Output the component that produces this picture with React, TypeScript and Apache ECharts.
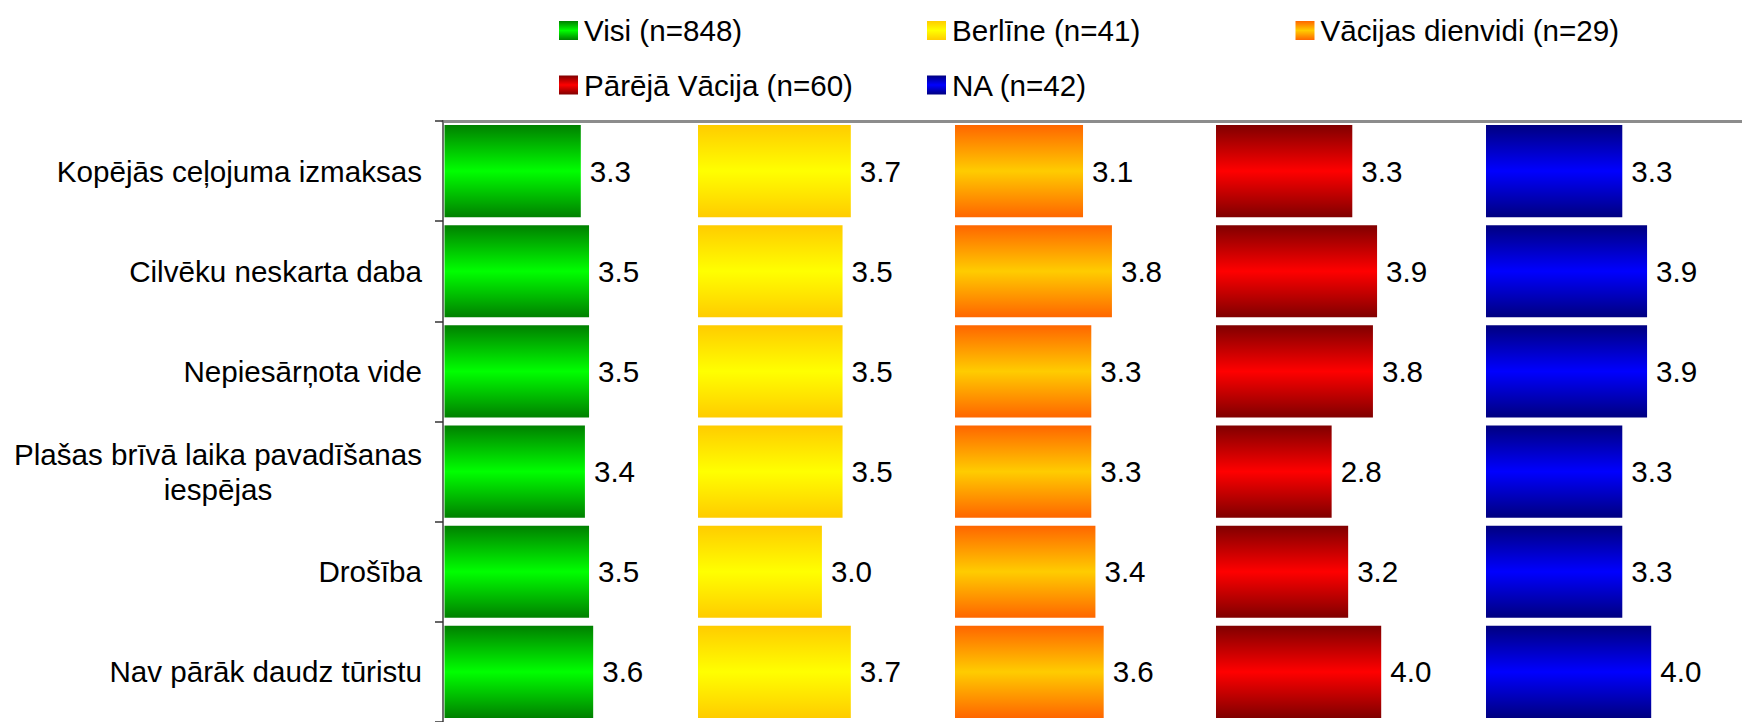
import { useEffect, useRef } from 'react';
import * as echarts from 'echarts';

const CATEGORIES = [
  'Kopējās ceļojuma izmaksas',
  'Cilvēku neskarta daba',
  'Nepiesārņota vide',
  'Plašas brīvā laika pavadīšanas\niespējas',
  'Drošība',
  'Nav pārāk daudz tūristu',
];

const SERIES_NAMES = [
  'Visi (n=848)',
  'Berlīne (n=41)',
  'Vācijas dienvidi (n=29)',
  'Pārējā Vācija (n=60)',
  'NA (n=42)',
];

const VISI = [3.3, 3.5, 3.5, 3.4, 3.5, 3.6];
const BERLINE = [3.7, 3.5, 3.5, 3.5, 3.0, 3.7];
const DIENVIDI = [3.1, 3.8, 3.3, 3.3, 3.4, 3.6];
const PAREJA = [3.3, 3.9, 3.8, 2.8, 3.2, 4.0];
const NA = [3.3, 3.9, 3.9, 3.3, 3.3, 4.0];

const PANEL_VALUES = [VISI, BERLINE, DIENVIDI, PAREJA, NA];

const PANEL_COLORS = [
  ['#008000', '#00ff00'],
  ['#ffcc00', '#ffff00'],
  ['#ff6600', '#ffcc00'],
  ['#800000', '#ff0000'],
  ['#000080', '#0000ff'],
];

export default function App() {
  const ref = useRef<HTMLDivElement>(null);

  useEffect(() => {
    const chart = echarts.init(ref.current!, null, { renderer: 'svg' });
    const FONT = '"Liberation Sans", Arial, Helvetica, sans-serif';
    const FS = 29.6;
    const K = 41.3; // px per unit
    const TOP = 121;
    const BAND = 100.8;
    const H = BAND * CATEGORIES.length;
    const AXIS_LEFT = 443;
    const lefts = [444.5, 698, 955, 1216, 1486];
    const legendX = [559, 927, 1295.5];
    const legendY = [15.5, 70];

    const grad = (i: number) =>
      new echarts.graphic.LinearGradient(0, 0, 0, 1, [
        { offset: 0, color: PANEL_COLORS[i][0] },
        { offset: 0.5, color: PANEL_COLORS[i][1] },
        { offset: 1, color: PANEL_COLORS[i][0] },
      ]);

    const grids = [
      { left: AXIS_LEFT, top: TOP, width: 1742 - AXIS_LEFT, height: H },
      ...lefts.map((l) => ({ left: l, top: TOP, width: K * 6, height: H })),
    ];

    const xAxes: any[] = [
      {
        gridIndex: 0,
        type: 'value',
        position: 'top',
        min: 0,
        max: 10,
        axisLine: { show: true, lineStyle: { color: '#8c8c8c', width: 3 } },
        axisTick: { show: false },
        axisLabel: { show: false },
        splitLine: { show: false },
      },
      ...lefts.map((_, i) => ({
        gridIndex: i + 1,
        type: 'value',
        min: 0,
        max: 6,
        show: false,
        splitLine: { show: false },
      })),
    ];

    const yAxes: any[] = [
      {
        gridIndex: 0,
        type: 'category',
        data: CATEGORIES,
        inverse: true,
        z: 10,
        axisLine: { show: true, lineStyle: { color: '#6e6e6e', width: 2 } },
        axisTick: { show: true, length: 8, lineStyle: { color: '#333', width: 1.5 } },
        axisLabel: {
          margin: 21,
          fontSize: FS,
          color: '#000',
          fontFamily: FONT,
          formatter: (v: string) => {
            const lines = v.split('\n');
            if (lines.length === 1) return v;
            return lines.map((l, idx) => `{${idx === 0 ? 'a' : 'c'}|${l}}`).join('\n');
          },
          rich: {
            a: { fontSize: FS, color: '#000', fontFamily: FONT, lineHeight: 35 },
            c: { fontSize: FS, color: '#000', fontFamily: FONT, lineHeight: 35, align: 'center' },
          },
        },
      },
      ...lefts.map((_, i) => ({
        gridIndex: i + 1,
        type: 'category',
        data: CATEGORIES,
        inverse: true,
        show: false,
      })),
    ];

    const series = PANEL_VALUES.map((vals, i) => ({
      type: 'bar',
      name: SERIES_NAMES[i],
      xAxisIndex: i + 1,
      yAxisIndex: i + 1,
      data: vals,
      barCategoryGap: '8%',
      itemStyle: { color: grad(i) },
      label: {
        show: true,
        position: 'right',
        distance: 9,
        fontSize: FS,
        color: '#000',
        fontFamily: FONT,
        formatter: (p: any) => Number(p.value).toFixed(1),
      },
    }));

    const legends = SERIES_NAMES.map((name, i) => ({
      data: [name],
      left: legendX[i % 3],
      top: legendY[Math.floor(i / 3)],
      padding: 0,
      icon: 'rect',
      itemWidth: 19,
      itemHeight: 19,
      selectedMode: false,
      textStyle: { fontSize: FS, color: '#000', fontFamily: FONT, lineHeight: 30, padding: [0, 0, 0, 1] },
    }));

    chart.setOption({
      animation: false,
      backgroundColor: '#fff',
      grid: grids,
      xAxis: xAxes,
      yAxis: yAxes,
      legend: legends,
      series,
    });

    return () => chart.dispose();
  }, []);

  return (
    <div
      ref={ref}
      style={{ position: 'fixed', left: 0, top: 0, width: 1742, height: 722 }}
    />
  );
}
